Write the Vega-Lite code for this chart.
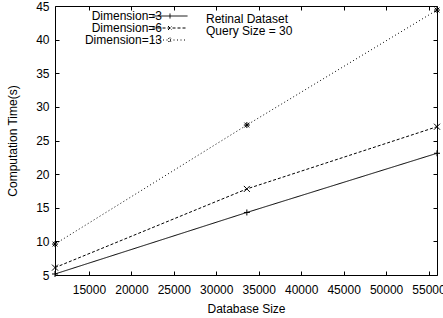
{
  "$schema": "https://vega.github.io/schema/vega-lite/v6.json",
  "width": 382,
  "height": 269,
  "autosize": {"type": "none"},
  "padding": {"left": 55, "top": 6, "right": 6, "bottom": 43},
  "background": "white",
  "config": {
    "view": {"stroke": "black", "strokeWidth": 1},
    "font": "Liberation Sans",
    "axis": {
      "domain": false,
      "grid": false,
      "tickColor": "black",
      "tickSize": -4,
      "tickWidth": 1,
      "labelFont": "Liberation Sans",
      "labelFontSize": 12,
      "labelColor": "black",
      "titleFont": "Liberation Sans",
      "titleFontSize": 12,
      "titleFontWeight": "normal",
      "titleColor": "black"
    }
  },
  "title": {
    "text": ["Retinal Dataset", "Query Size = 30"],
    "anchor": "start",
    "frame": "group",
    "orient": "top",
    "offset": -38,
    "dx": 151,
    "fontSize": 12,
    "fontWeight": "normal",
    "lineHeight": 12,
    "font": "Liberation Sans",
    "color": "black"
  },
  "data": {
    "values": [
      {"series": "Dimension=3", "size": 11000, "time": 5.15},
      {"series": "Dimension=3", "size": 33600, "time": 14.3},
      {"series": "Dimension=3", "size": 56000, "time": 23.1},
      {"series": "Dimension=6", "size": 11000, "time": 6.1},
      {"series": "Dimension=6", "size": 33600, "time": 17.8},
      {"series": "Dimension=6", "size": 56000, "time": 27.05},
      {"series": "Dimension=13", "size": 11000, "time": 9.6},
      {"series": "Dimension=13", "size": 33600, "time": 27.3},
      {"series": "Dimension=13", "size": 56000, "time": 44.4}
    ]
  },
  "layer": [
    {
      "mark": {"type": "line", "color": "black", "strokeWidth": 1},
      "encoding": {
        "x": {
          "field": "size", "type": "quantitative",
          "scale": {"domain": [11000, 56000], "nice": false, "zero": false},
          "axis": {"orient": "bottom", "values": [15000, 20000, 25000, 30000, 35000, 40000, 45000, 50000, 55000], "format": "d", "labelPadding": 13, "title": "Database Size", "titlePadding": 8}
        },
        "y": {
          "field": "time", "type": "quantitative",
          "scale": {"domain": [5, 45], "nice": false, "zero": false},
          "axis": {"orient": "left", "values": [5, 10, 15, 20, 25, 30, 35, 40, 45], "labelPadding": 10, "title": "Computation Time(s)", "titlePadding": 16}
        },
        "strokeDash": {
          "field": "series", "type": "nominal",
          "scale": {"domain": ["Dimension=3", "Dimension=6", "Dimension=13"], "range": [[1, 0], [3, 2], [1, 2.5]]},
          "legend": {
            "title": null,
            "orient": "none",
            "legendX": 78,
            "legendY": 4,
            "labelFontSize": 12,
            "labelFont": "Liberation Sans",
            "labelColor": "black",
            "labelAlign": "right",
            "labelOffset": -14,
            "symbolSize": 100,
            "symbolOffset": 31,
            "symbolStrokeWidth": 1,
            "symbolStrokeColor": "black",
            "rowPadding": -2,
            "padding": 0,
            "encode": {
              "symbols": {
                "update": {
                  "shape": {"signal": "datum.value === 'Dimension=3' ? 'M-3.5,0H3.5M0,-0.5V0.5' : datum.value === 'Dimension=6' ? 'M-3.5,0H3.5M-0.4,-0.4L0.4,0.4M-0.4,0.4L0.4,-0.4' : 'M-3.5,0H3.5M0,-0.5V0.5M-0.4,-0.4L0.4,0.4M-0.4,0.4L0.4,-0.4'"},
                  "fill": {"value": "transparent"},
                  "stroke": {"value": "black"},
                  "opacity": {"value": 1}
                }
              }
            }
          }
        }
      }
    },
    {
      "transform": [{"filter": "datum.series === 'Dimension=3'"}],
      "mark": {"type": "point", "filled": false, "color": "black", "strokeWidth": 1, "opacity": 1, "size": 36, "shape": "M-1,0L1,0M0,-1L0,1"},
      "encoding": {
        "x": {
          "field": "size", "type": "quantitative",
          "scale": {"domain": [11000, 56000], "nice": false, "zero": false},
          "axis": {"orient": "top", "values": [15000, 20000, 25000, 30000, 35000, 40000, 45000, 50000, 55000], "labels": false, "title": null}
        },
        "y": {
          "field": "time", "type": "quantitative",
          "scale": {"domain": [5, 45], "nice": false, "zero": false},
          "axis": {"orient": "right", "values": [5, 10, 15, 20, 25, 30, 35, 40, 45], "labels": false, "title": null}
        }
      }
    },
    {
      "transform": [{"filter": "datum.series === 'Dimension=6'"}],
      "mark": {"type": "point", "filled": false, "color": "black", "strokeWidth": 1, "opacity": 1, "size": 36, "shape": "M-1,-1L1,1M-1,1L1,-1"},
      "encoding": {
        "x": {"field": "size", "type": "quantitative", "axis": null},
        "y": {"field": "time", "type": "quantitative", "axis": null}
      }
    },
    {
      "transform": [{"filter": "datum.series === 'Dimension=13'"}],
      "mark": {"type": "point", "filled": false, "color": "black", "strokeWidth": 1, "opacity": 1, "size": 36, "shape": "M-1,0L1,0M0,-1L0,1M-0.8,-0.8L0.8,0.8M-0.8,0.8L0.8,-0.8"},
      "encoding": {
        "x": {"field": "size", "type": "quantitative", "axis": null},
        "y": {"field": "time", "type": "quantitative", "axis": null}
      }
    }
  ],
  "resolve": {"axis": {"x": "independent", "y": "independent"}}
}
